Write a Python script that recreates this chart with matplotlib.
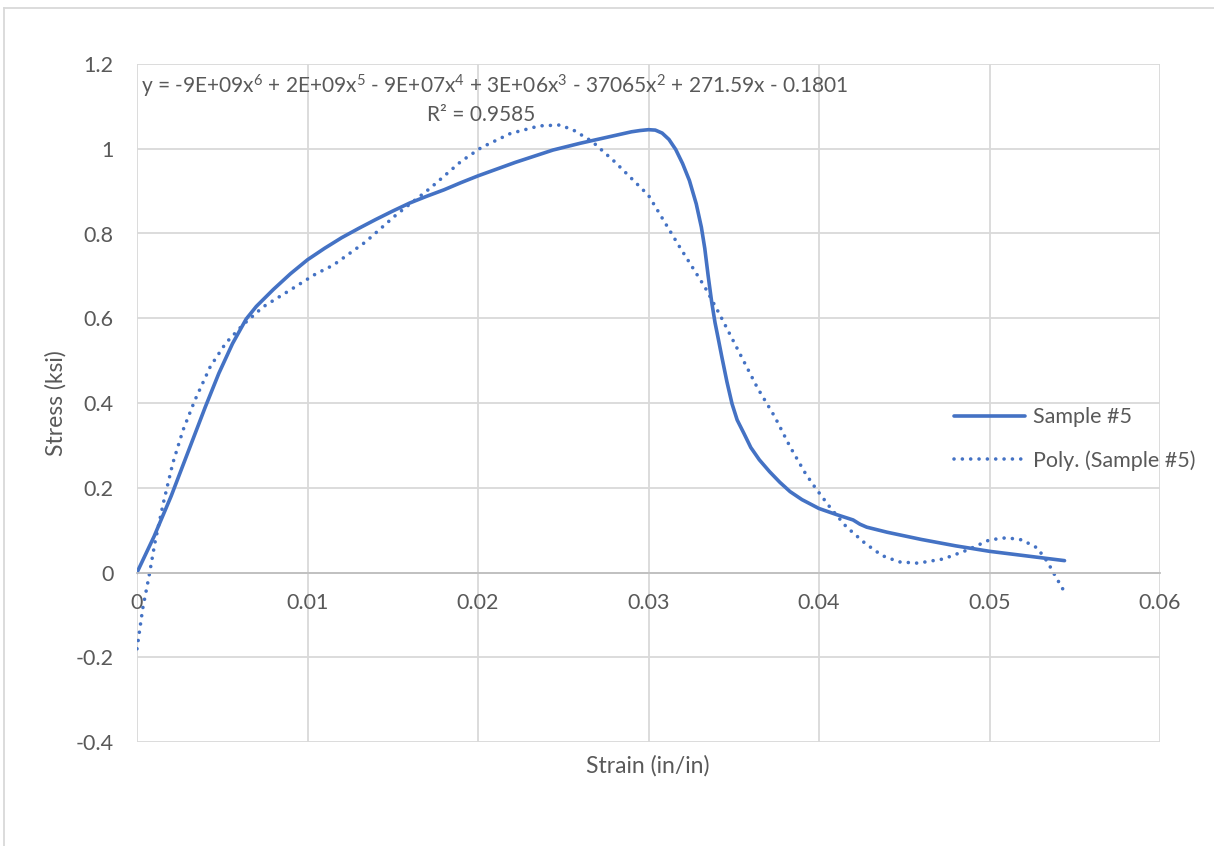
import matplotlib
matplotlib.use("Agg")
import matplotlib.pyplot as plt
from matplotlib.lines import Line2D

# Sample #5 stress-strain curve
strain = [0, 0.001, 0.002, 0.003, 0.004, 0.0048, 0.0056, 0.0064, 0.007, 0.008,
          0.009, 0.01, 0.011, 0.012, 0.013, 0.014, 0.015, 0.016, 0.017, 0.018,
          0.019, 0.02, 0.0222, 0.0244, 0.026, 0.028, 0.029, 0.0295, 0.03, 0.0304,
          0.0308, 0.0312, 0.0316, 0.032, 0.0324, 0.0328, 0.0331, 0.0333, 0.0335, 0.0337,
          0.0339, 0.0341, 0.0343, 0.0346, 0.0349, 0.0352, 0.0356, 0.036, 0.0365, 0.0371,
          0.0377, 0.0383, 0.039, 0.04, 0.041, 0.042, 0.0424, 0.0428, 0.044, 0.046,
          0.048, 0.05, 0.052, 0.0544]
stress = [0, 0.085, 0.18, 0.285, 0.39, 0.47, 0.54, 0.598, 0.628, 0.668,
          0.705, 0.738, 0.765, 0.79, 0.812, 0.833, 0.853, 0.872, 0.888, 0.903,
          0.92, 0.936, 0.968, 0.997, 1.013, 1.031, 1.04, 1.043, 1.045, 1.044,
          1.037, 1.022, 0.998, 0.965, 0.925, 0.87, 0.815, 0.765, 0.7, 0.64,
          0.59, 0.55, 0.509, 0.45, 0.398, 0.36, 0.328, 0.295, 0.266, 0.238,
          0.213, 0.191, 0.172, 0.151, 0.137, 0.124, 0.114, 0.107, 0.095, 0.078,
          0.063, 0.05, 0.04, 0.028]

# Poly. trendline as drawn in the chart
poly_x = [0, 0.00034, 0.0007, 0.00105, 0.00154, 0.0021, 0.0027, 0.0034, 0.0043, 0.0052,
          0.0062, 0.0074, 0.009, 0.0105, 0.0115, 0.0134, 0.0152, 0.0172, 0.019, 0.0202,
          0.0219, 0.0236, 0.0248, 0.0256, 0.0267, 0.028, 0.03, 0.0318, 0.0333, 0.0342,
          0.0353, 0.0364, 0.0374, 0.0383, 0.0392, 0.0398, 0.0407, 0.0416, 0.0427, 0.0437,
          0.0447, 0.0458, 0.0473, 0.0487, 0.05, 0.051, 0.0519, 0.0528, 0.0534, 0.0538,
          0.0543]
poly_y = [-0.18, -0.084, -0.01, 0.07, 0.163, 0.258, 0.336, 0.407, 0.486, 0.541,
          0.584, 0.627, 0.667, 0.705, 0.725, 0.78, 0.844, 0.907, 0.97, 1.003,
          1.036, 1.054, 1.056, 1.044, 1.017, 0.97, 0.89, 0.77, 0.674, 0.607,
          0.521, 0.435, 0.368, 0.297, 0.234, 0.199, 0.151, 0.108, 0.069, 0.04,
          0.025, 0.022, 0.032, 0.053, 0.077, 0.082, 0.077, 0.058, 0.025, -0.004,
          -0.039]

xticks = [0, 0.01, 0.02, 0.03, 0.04, 0.05, 0.06]
xlabels = ["0", "0.01", "0.02", "0.03", "0.04", "0.05", "0.06"]
yticks = [-0.4, -0.2, 0, 0.2, 0.4, 0.6, 0.8, 1.0, 1.2]
ylabels = ["-0.4", "-0.2", "0", "0.2", "0.4", "0.6", "0.8", "1", "1.2"]

eq_text = (r"y = -9E+09x$\mathregular{^6}$ + 2E+09x$\mathregular{^5}$ - 9E+07x$\mathregular{^4}$"
           r" + 3E+06x$\mathregular{^3}$ - 37065x$\mathregular{^2}$ + 271.59x - 0.1801")
r2_text = "R² = 0.9585"

plt.rcParams['font.family'] = ['Lato', 'DejaVu Sans']
plt.rcParams['mathtext.fontset'] = 'custom'
plt.rcParams['mathtext.rm'] = 'Lato'

blue = '#4472C4'
grey_txt = '#595959'
grid_c = '#D9D9D9'

fig = plt.figure(figsize=(12.14, 8.46), dpi=100)
ax = fig.add_axes([137/1214, 1 - 742/846, (1160-137)/1214, (742-64)/846])

ax.plot(strain, stress, color=blue, lw=2.6, solid_capstyle='round',
        solid_joinstyle='round', label='Sample #5')
ax.plot(poly_x, poly_y, color=blue, lw=2.6, linestyle=(0, (0.01, 2.3)),
        dash_capstyle='round', label='Poly. (Sample #5)')

ax.set_xlim(0, 0.06)
ax.set_ylim(-0.4, 1.2)
ax.set_xticks(xticks, xlabels)
ax.set_yticks(yticks, ylabels)
ax.grid(True, color=grid_c, lw=1.3)
ax.set_axisbelow(True)
for s in ['top', 'right', 'left']:
    ax.spines[s].set_visible(False)
ax.spines['bottom'].set_position(('data', 0))
ax.spines['bottom'].set_color('#BFBFBF')
ax.spines['bottom'].set_linewidth(1.3)
ax.tick_params(axis='both', length=0, labelsize=15.5, labelcolor=grey_txt)
ax.tick_params(axis='x', pad=15)
ax.tick_params(axis='y', pad=17)

ax.text(0.0210, 1.147, eq_text, fontsize=15, color=grey_txt, ha='center', va='center')
ax.text(0.0202, 1.080, r2_text, fontsize=15, color=grey_txt, ha='center', va='center')

fig.text(648/1214, 1 - 766/846, "Strain (in/in)", fontsize=16.5, color=grey_txt,
         ha='center', va='center')
fig.text(56/1214, 1 - 403/846, "Stress (ksi)", fontsize=16.5, color=grey_txt,
         ha='center', va='center', rotation=90)

leg = fig.legend(loc='upper left', bbox_to_anchor=(935/1214, 1 - 388/846), frameon=False,
                 fontsize=15.5, handlelength=3.3, handletextpad=0.35, labelspacing=1.05)
for t in leg.get_texts():
    t.set_color(grey_txt)

# chart area border
fig.add_artist(Line2D([4/1214, 1], [1 - 8/846, 1 - 8/846], color=grid_c, lw=1.3))
fig.add_artist(Line2D([4/1214, 4/1214], [0, 1 - 8/846], color=grid_c, lw=1.3))

fig.savefig("out.png", dpi=100)
